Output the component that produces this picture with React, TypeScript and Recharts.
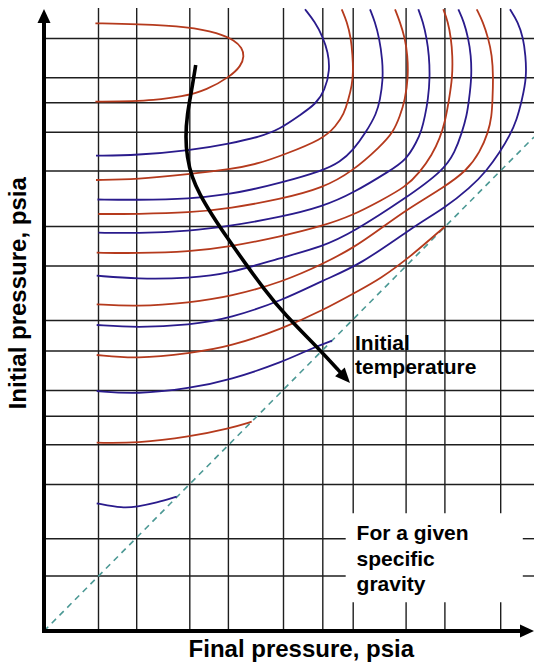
import React from 'react';
import {
  ComposedChart,
  Line,
  XAxis,
  YAxis,
  ReferenceLine,
  ReferenceDot,
} from 'recharts';

type Pt = [number, number];

// The original has no tick values, so both axes run in chart units
// (final pressure across, initial pressure up).
const X_MAX = 490;
const Y_MAX = 623;

const finalGrid = [54.5, 92.7, 145.8, 184.4, 239.5, 278.8, 309.2, 362.1, 400.9, 456.7];
const initialGrid = [
  55, 92.3, 146.5, 186.3, 214.7, 240.5, 280, 310.5, 365, 404.5, 460, 498.7, 528.3, 553.3, 592.5,
];

// initial = final
const equalLine: Pt[] = [[0, 0], [490, 494]];

// constant-temperature curves, top to bottom (red / blue alternate)
const curve1: Pt[] = [
  [51.4, 607.7], [92.6, 607], [145.7, 604.3], [174, 598], [191, 590.5], [198, 583], [200.3, 575],
  [197, 565], [186, 554.3], [162.7, 541], [139.3, 534.3], [106, 530.5], [92.6, 530], [51.4, 529.3],
];
const curve2: Pt[] = [
  [52, 475.3], [92.7, 475.8], [146, 480.5], [186, 487.5], [216, 494.3], [236, 502], [256, 516],
  [272, 527], [281, 541], [286, 561], [284, 579], [278.7, 594.3], [271, 609], [261, 621.7],
];
const curve3: Pt[] = [
  [52, 451], [92.7, 451.5], [146, 457], [186, 461.5], [216, 467.7], [239, 476], [278.7, 491.7],
  [292, 505], [300, 517], [304.3, 531], [308, 546], [309.3, 559], [308.5, 576], [307, 592.7],
  [303, 609], [297.7, 621.7],
];
const curve4: Pt[] = [
  [53.5, 431.5], [92.7, 431], [146, 432], [186, 437], [206, 441], [236, 448], [278.7, 460.3],
  [296, 469], [309.3, 481], [322, 498.7], [332.7, 517.7], [336, 531], [339, 551], [338.5, 571],
  [335.3, 592.7], [331, 609], [326, 621.7],
];
const curve5: Pt[] = [
  [54.3, 417], [92.7, 417], [146, 418.3], [186, 422.7], [236, 431.7], [278.7, 442.7], [309.3, 460.3],
  [336, 484.3], [349.3, 498.7], [356, 515], [361, 531], [364.3, 554], [363.5, 576], [361, 592.7],
  [356, 609], [351, 621.7],
];
const curve6: Pt[] = [
  [54.3, 398.3], [92.7, 397.7], [146, 400], [186, 405], [236, 413.7], [278.7, 424.3], [309.3, 438],
  [346, 460.3], [362, 471], [372.7, 489], [377.7, 501], [381, 515], [384, 531], [386, 554],
  [385, 576], [382.7, 592.7], [379, 609], [374.3, 621.7],
];
const curve7: Pt[] = [
  [52.7, 378.3], [92.7, 377.7], [146, 379.3], [186, 384.3], [236, 394.3], [278.7, 405], [309.3, 416],
  [336, 430], [362, 444.3], [376, 459], [388, 476], [396, 493], [401, 509], [405, 531],
  [408.5, 554], [408.5, 576], [407, 592.7], [404, 609], [399.3, 621.7],
];
const curve8: Pt[] = [
  [52.7, 355.3], [92.7, 352], [146, 352.7], [186, 357.7], [236, 373], [278.7, 384.3], [309.3, 399],
  [362, 433], [399.3, 460.3], [411, 479], [418, 498.7], [422.7, 515], [425, 531], [427.7, 554],
  [427, 576], [424.3, 592.7], [420, 609], [414.3, 621.7],
];
const curve9: Pt[] = [
  [52.7, 326.7], [92.7, 324.3], [146, 328.3], [186, 334.3], [239.3, 349.3], [278.7, 367], [309.3, 383],
  [339.3, 404.3], [362, 421], [400.7, 444.3], [422.7, 460.3], [436, 479], [444.3, 498.7],
  [447.7, 515], [448.5, 531], [449.3, 554], [448, 576], [444.3, 592.7], [439, 609], [432.7, 621.7],
];
const curve10: Pt[] = [
  [52.7, 306], [92.7, 303.3], [146, 306], [186, 312.7], [239.3, 331], [279.3, 351], [316, 366],
  [369.3, 404.3], [400.7, 423], [426, 443], [442.7, 460.3], [456, 479], [466, 496], [472.7, 511],
  [478, 531], [482.7, 554], [481.5, 576], [479.3, 592.7], [474, 609], [466, 621.7],
];
const curve11: Pt[] = [
  [52.7, 276], [92.7, 272], [146, 277.7], [186, 284.3], [239.3, 302.7], [279.3, 321], [312.7, 339.3],
  [336, 352], [366, 374], [400.7, 404.3],
];
const curve12: Pt[] = [
  [52.7, 240], [92.7, 236.7], [146, 242.7], [186, 251], [239.3, 269.3], [266, 282], [288, 290.3],
];
const curve13: Pt[] = [
  [52.7, 188.3], [92.7, 187.7], [146, 194.3], [186, 202.7], [207.7, 209.3],
];
const curve14: Pt[] = [
  [52.7, 127.7], [79.3, 122.7], [92.7, 124.3], [112.7, 128.3], [132.7, 134.3],
];

const curves = [
  curve1, curve2, curve3, curve4, curve5, curve6, curve7,
  curve8, curve9, curve10, curve11, curve12, curve13, curve14,
];

// direction of increasing initial temperature
const tempArrow: Pt[] = [
  [151.7, 566], [147.7, 541], [143, 516], [141.5, 494], [143, 474], [147.7, 454], [156, 436],
  [168, 416], [182, 395], [201, 368], [220, 342], [240, 317], [276, 281], [296.6, 258.4],
];
const tempArrowTip: Pt = [306, 248];

const RED = '#b53a1d';
const BLUE = '#2a1b8c';
const GRID = '#1e1e1e';
const TEAL = '#4b9894';
const FONT = '"Liberation Sans", Arial, Helvetica, sans-serif';

// white patch behind the "For a given specific gravity" note
const NOTE_BOX = { x1: 301.7, x2: 478.8, y1: 28.7, y2: 117.7 };

const toRows = (pts: Pt[]) => pts.map(([x, y]) => ({ x, y }));

const arrowHead = (angle: number, len = 14, half = 6) => (props: any) => {
  const { cx, cy } = props;
  if (cx == null || cy == null) return <g />;
  return (
    <polygon
      points={`0,0 ${-len},${-half} ${-len},${half}`}
      transform={`translate(${cx},${cy}) rotate(${angle})`}
      fill="#000"
    />
  );
};

const textBlock =
  (lines: string[], size: number, lineH: number, anchor: 'start' | 'middle' = 'start', rotate = 0) =>
  (props: any) => {
    const { cx, cy } = props;
    if (cx == null || cy == null) return <g />;
    return (
      <text
        x={cx}
        y={cy}
        fontFamily={FONT}
        fontWeight="bold"
        fontSize={size}
        fill="#000"
        textAnchor={anchor}
        transform={rotate ? `rotate(${rotate},${cx},${cy})` : undefined}
      >
        {lines.map((l, i) => (
          <tspan key={l} x={cx} dy={i === 0 ? 0 : lineH}>
            {l}
          </tspan>
        ))}
      </text>
    );
  };

function gridSegments() {
  const segs: { key: string; a: Pt; b: Pt }[] = [];
  finalGrid.forEach((x, i) => {
    if (x > NOTE_BOX.x1 && x < NOTE_BOX.x2) {
      segs.push({ key: `v${i}a`, a: [x, 0], b: [x, NOTE_BOX.y1] });
      segs.push({ key: `v${i}b`, a: [x, NOTE_BOX.y2], b: [x, Y_MAX] });
    } else {
      segs.push({ key: `v${i}`, a: [x, 0], b: [x, Y_MAX] });
    }
  });
  initialGrid.forEach((y, i) => {
    if (y > NOTE_BOX.y1 && y < NOTE_BOX.y2) {
      segs.push({ key: `h${i}a`, a: [0, y], b: [NOTE_BOX.x1, y] });
      segs.push({ key: `h${i}b`, a: [NOTE_BOX.x2, y], b: [X_MAX, y] });
    } else {
      segs.push({ key: `h${i}`, a: [0, y], b: [X_MAX, y] });
    }
  });
  return segs;
}

export default function App() {
  return (
    <div style={{ position: 'absolute', left: 0, top: 0, background: '#fff' }}>
      <ComposedChart
        width={534}
        height={663}
        margin={{ top: 8, right: 0, bottom: 32, left: 44 }}
      >
        <XAxis type="number" dataKey="x" domain={[0, X_MAX]} hide allowDataOverflow />
        <YAxis type="number" dataKey="y" domain={[0, Y_MAX]} hide allowDataOverflow />

        {gridSegments().map((s) => (
          <ReferenceLine
            key={s.key}
            segment={[{ x: s.a[0], y: s.a[1] }, { x: s.b[0], y: s.b[1] }]}
            stroke={GRID}
            strokeWidth={1.4}
            ifOverflow="visible"
          />
        ))}

        <Line
          data={toRows(equalLine)}
          dataKey="y"
          type="linear"
          stroke={TEAL}
          strokeWidth={1.6}
          strokeDasharray="6 5"
          dot={false}
          isAnimationActive={false}
        />

        {curves.map((c, i) => (
          <Line
            key={`c${i}`}
            data={toRows(c)}
            dataKey="y"
            type="basis"
            stroke={i % 2 === 0 ? RED : BLUE}
            strokeWidth={1.8}
            dot={false}
            isAnimationActive={false}
          />
        ))}

        <Line
          data={toRows(tempArrow)}
          dataKey="y"
          type="basis"
          stroke="#000"
          strokeWidth={3.6}
          dot={false}
          isAnimationActive={false}
        />
        <ReferenceDot
          x={tempArrowTip[0]}
          y={tempArrowTip[1]}
          ifOverflow="visible"
          shape={arrowHead(47.7, 15, 6.5)}
        />

        {/* axes with arrow heads */}
        <ReferenceLine
          segment={[{ x: 0, y: -2 }, { x: 0, y: 611 }]}
          stroke="#000"
          strokeWidth={4}
          ifOverflow="visible"
        />
        <ReferenceDot x={0} y={622} ifOverflow="visible" shape={arrowHead(-90, 14, 6.5)} />
        <ReferenceLine
          segment={[{ x: -2, y: 0 }, { x: 479, y: 0 }]}
          stroke="#000"
          strokeWidth={4}
          ifOverflow="visible"
        />
        <ReferenceDot x={490} y={0} ifOverflow="visible" shape={arrowHead(0, 14, 6.5)} />

        <ReferenceDot
          x={311}
          y={281}
          ifOverflow="visible"
          shape={textBlock(['Initial', 'temperature'], 21, 24)}
        />
        <ReferenceDot
          x={312.6}
          y={91}
          ifOverflow="visible"
          shape={textBlock(['For a given', 'specific', 'gravity'], 21, 25.5)}
        />
        <ReferenceDot
          x={257.3}
          y={-26}
          ifOverflow="visible"
          shape={textBlock(['Final pressure, psia'], 24, 0, 'middle')}
        />
        <ReferenceDot
          x={-18}
          y={337.7}
          ifOverflow="visible"
          shape={textBlock(['Initial pressure, psia'], 24, 0, 'middle', -90)}
        />
      </ComposedChart>
    </div>
  );
}
